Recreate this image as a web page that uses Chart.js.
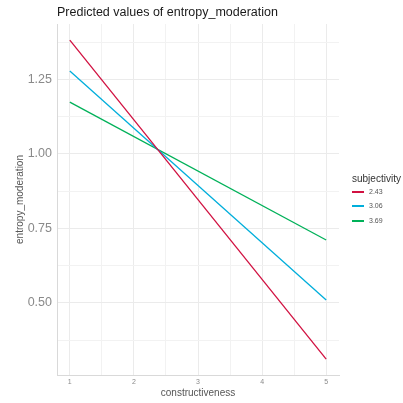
<!DOCTYPE html>
<html>
<head>
<meta charset="utf-8">
<script src="https://cdn.jsdelivr.net/npm/chart.js@4.4.0/dist/chart.umd.min.js"></script>
<style>
  body { margin: 0; background: #fff; font-family: "Liberation Sans", Arial, sans-serif; }
  #wrap { position: relative; width: 403px; height: 403px; }
  #title { position: absolute; left: 57px; top: 6px; font-size: 12.5px; line-height: 13px; color: #1a1a1a; white-space: nowrap; }
  #legend { position: absolute; left: 352px; top: 0; }
  #legend .lt { position: absolute; left: 0; top: 173px; font-size: 10px; line-height: 12px; color: #333; white-space: nowrap; }
  #legend .sw { position: absolute; left: 0; width: 12px; height: 2px; }
  #legend .lab { position: absolute; left: 17px; font-size: 7px; line-height: 8px; color: #555; white-space: nowrap; }
</style>
</head>
<body>
<div id="wrap">
  <canvas id="chart" width="403" height="403"></canvas>
  <div id="title">Predicted values of entropy_moderation</div>
  <div id="legend"></div>
</div>
<script>
// data (predictions at the ends of the x range)
const xValues = [1, 5];
const subjectivity = ['2.43', '3.06', '3.69'];
const pred243 = [1.382, 0.311];
const pred306 = [1.278, 0.510];
const pred369 = [1.174, 0.711];
const seriesColors = ['#d11141', '#00aedb', '#00b159'];
const xTicks = [1, 2, 3, 4, 5];
const yTicks = [0.50, 0.75, 1.00, 1.25];

const series = [pred243, pred306, pred369];

const near = (a, b) => Math.abs(a - b) < 1e-6;
const isMajor = (list, v) => list.some(t => near(t, v));

// major + minor grid positions (midpoints between labelled ticks)
function withMinor(list) {
  const step = list[1] - list[0];
  const out = [];
  for (let i = 0; i < list.length; i++) {
    out.push(list[i]);
    if (i < list.length - 1) out.push(list[i] + step / 2);
  }
  return out;
}
const xGrid = withMinor(xTicks);
const yStep = yTicks[1] - yTicks[0];
const yGrid = [yTicks[0] - yStep / 2].concat(withMinor(yTicks), [yTicks[yTicks.length - 1] + yStep / 2]);

const datasets = series.map((vals, i) => ({
  label: subjectivity[i],
  data: xValues.map((x, j) => ({ x: x, y: vals[j] })),
  borderColor: seriesColors[i],
  backgroundColor: seriesColors[i],
  borderWidth: 1.3,
  pointRadius: 0,
  fill: false,
  tension: 0,
}));

const gridColor = (ctx, list) => isMajor(list, ctx.tick.value) ? '#ebebeb' : '#f2f2f2';

const chart = new Chart(document.getElementById('chart'), {
  type: 'line',
  data: { datasets: datasets },
  options: {
    responsive: false,
    animation: false,
    devicePixelRatio: 1,
    layout: { padding: { left: 10, right: 64, top: 24, bottom: 0 } },
    plugins: {
      legend: { display: false },
      tooltip: { enabled: false },
    },
    scales: {
      x: {
        type: 'linear',
        min: 0.8,
        max: 5.2,
        afterBuildTicks: (s) => { s.ticks = xGrid.map(v => ({ value: v })); },
        afterFit: (s) => { s.height = 28; },
        ticks: {
          autoSkip: false,
          maxRotation: 0,
          padding: 3,
          color: '#8a8a8a',
          font: { family: '"Liberation Sans", Arial, sans-serif', size: 7 },
          callback: (v) => isMajor(xTicks, v) ? String(v) : '',
        },
        grid: { color: (ctx) => gridColor(ctx, xTicks), drawTicks: false, lineWidth: 1 },
        border: { display: true, color: '#d9d9d9', width: 1 },
        title: {
          display: true,
          text: 'constructiveness',
          color: '#555',
          font: { family: '"Liberation Sans", Arial, sans-serif', size: 10 },
          padding: { top: 0, bottom: 4 },
        },
      },
      y: {
        type: 'linear',
        min: 0.258,
        max: 1.436,
        afterBuildTicks: (s) => { s.ticks = yGrid.map(v => ({ value: v })); },
        afterFit: (s) => { s.width = 47; },
        ticks: {
          autoSkip: false,
          padding: 5,
          color: '#8a8a8a',
          font: { family: '"Liberation Sans", Arial, sans-serif', size: 12.5 },
          callback: (v) => isMajor(yTicks, v) ? v.toFixed(2) : '',
        },
        grid: { color: (ctx) => gridColor(ctx, yTicks), drawTicks: false, lineWidth: 1 },
        border: { display: true, color: '#d9d9d9', width: 1 },
        title: {
          display: true,
          text: 'entropy_moderation',
          color: '#555',
          font: { family: '"Liberation Sans", Arial, sans-serif', size: 10 },
          padding: { top: 4, bottom: 0 },
        },
      },
    },
  },
});

// html legend built from the chart's datasets
const legend = document.getElementById('legend');
const rowTops = [191, 205, 220];
let html = '<div class="lt">subjectivity</div>';
chart.data.datasets.forEach((ds, i) => {
  html += '<span class="sw" style="top:' + rowTops[i] + 'px;background:' + ds.borderColor + '"></span>' +
          '<span class="lab" style="top:' + (rowTops[i] - 3) + 'px">' + ds.label + '</span>';
});
legend.innerHTML = html;
</script>
</body>
</html>
